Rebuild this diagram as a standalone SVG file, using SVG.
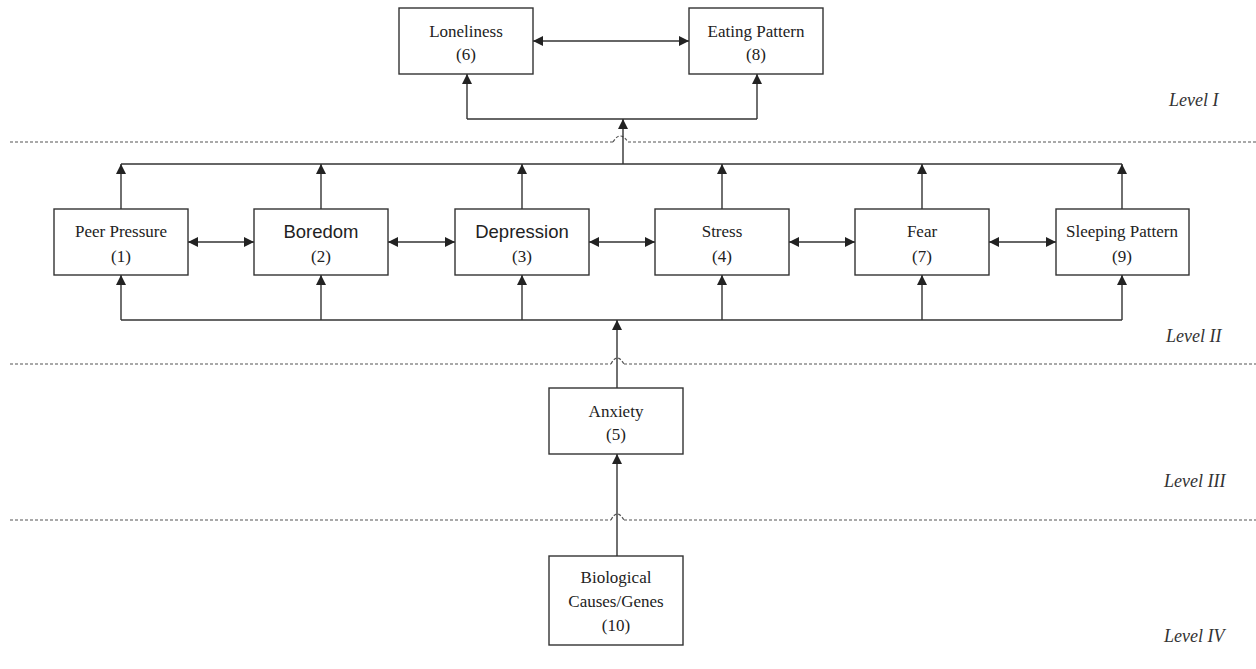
<svg xmlns="http://www.w3.org/2000/svg" width="1256" height="669" viewBox="0 0 1256 669">
<style>
.box{fill:#fff;stroke:#333;stroke-width:1.4}
.ln{fill:none;stroke:#333;stroke-width:1.4}
.dot{fill:none;stroke:#555;stroke-width:1.2;stroke-dasharray:3 2}
.t{font-family:"Liberation Serif","Times New Roman",serif;font-size:17px;fill:#222;text-anchor:middle}
.s{font-family:"Liberation Sans",Arial,sans-serif;font-size:18.5px;fill:#222;text-anchor:middle}
.lv{font-family:"Liberation Serif","Times New Roman",serif;font-style:italic;font-size:18px;fill:#333}
</style>
<defs>
<marker id="ah" viewBox="0 0 10 10" refX="10" refY="5" markerWidth="10" markerHeight="10" markerUnits="userSpaceOnUse" orient="auto-start-reverse">
<path d="M0,0 L10,5 L0,10 z" fill="#222"/>
</marker>
</defs>
<g id="levels">
<path class="dot" d="M10,142 H613 M628,142 H1256"/>
<path class="dot" d="M613,142 Q620,130 628,142"/>
<path class="dot" d="M10,364 H611 M624,364 H1256"/>
<path class="dot" d="M611,364 Q617,352 624,364"/>
<path class="dot" d="M10,520 H611 M624,520 H1256"/>
<path class="dot" d="M611,520 Q617,508 624,520"/>
<text class="lv" x="1169" y="106">Level I</text>
<text class="lv" x="1166" y="342">Level II</text>
<text class="lv" x="1164" y="487">Level III</text>
<text class="lv" x="1164" y="642">Level IV</text>
</g>
<g id="connectors">
<line class="ln" x1="533" y1="41" x2="689" y2="41" marker-start="url(#ah)" marker-end="url(#ah)"/>
<path class="ln" d="M467,119 H757"/>
<line class="ln" x1="467" y1="119" x2="467" y2="74" marker-end="url(#ah)"/>
<line class="ln" x1="757" y1="119" x2="757" y2="74" marker-end="url(#ah)"/>
<line class="ln" x1="623" y1="164" x2="623" y2="119" marker-end="url(#ah)"/>
<path class="ln" d="M121,164 H1122"/>
<line class="ln" x1="121" y1="209" x2="121" y2="164" marker-end="url(#ah)"/>
<line class="ln" x1="321" y1="209" x2="321" y2="164" marker-end="url(#ah)"/>
<line class="ln" x1="522" y1="209" x2="522" y2="164" marker-end="url(#ah)"/>
<line class="ln" x1="722" y1="209" x2="722" y2="164" marker-end="url(#ah)"/>
<line class="ln" x1="922" y1="209" x2="922" y2="164" marker-end="url(#ah)"/>
<line class="ln" x1="1122" y1="209" x2="1122" y2="164" marker-end="url(#ah)"/>
<line class="ln" x1="188" y1="242" x2="254" y2="242" marker-start="url(#ah)" marker-end="url(#ah)"/>
<line class="ln" x1="388" y1="242" x2="455" y2="242" marker-start="url(#ah)" marker-end="url(#ah)"/>
<line class="ln" x1="589" y1="242" x2="655" y2="242" marker-start="url(#ah)" marker-end="url(#ah)"/>
<line class="ln" x1="789" y1="242" x2="855" y2="242" marker-start="url(#ah)" marker-end="url(#ah)"/>
<line class="ln" x1="989" y1="242" x2="1056" y2="242" marker-start="url(#ah)" marker-end="url(#ah)"/>
<path class="ln" d="M121,320 H1122"/>
<line class="ln" x1="121" y1="320" x2="121" y2="275" marker-end="url(#ah)"/>
<line class="ln" x1="321" y1="320" x2="321" y2="275" marker-end="url(#ah)"/>
<line class="ln" x1="522" y1="320" x2="522" y2="275" marker-end="url(#ah)"/>
<line class="ln" x1="722" y1="320" x2="722" y2="275" marker-end="url(#ah)"/>
<line class="ln" x1="922" y1="320" x2="922" y2="275" marker-end="url(#ah)"/>
<line class="ln" x1="1122" y1="320" x2="1122" y2="275" marker-end="url(#ah)"/>
<line class="ln" x1="617" y1="388" x2="617" y2="320" marker-end="url(#ah)"/>
<line class="ln" x1="617" y1="556" x2="617" y2="454" marker-end="url(#ah)"/>
</g>
<g id="n6"><rect class="box" x="399" y="8" width="134" height="66"/><text class="t" x="466" y="37">Loneliness</text><text class="t" x="466" y="60">(6)</text></g>
<g id="n8"><rect class="box" x="689" y="8" width="134" height="66"/><text class="t" x="756" y="37">Eating Pattern</text><text class="t" x="756" y="60">(8)</text></g>
<g id="n1"><rect class="box" x="54" y="209" width="134" height="66"/><text class="t" x="121" y="237">Peer Pressure</text><text class="t" x="121" y="262">(1)</text></g>
<g id="n2"><rect class="box" x="254" y="209" width="134" height="66"/><text class="s" x="321" y="238">Boredom</text><text class="t" x="321" y="262">(2)</text></g>
<g id="n3"><rect class="box" x="455" y="209" width="134" height="66"/><text class="s" x="522" y="238">Depression</text><text class="t" x="522" y="262">(3)</text></g>
<g id="n4"><rect class="box" x="655" y="209" width="134" height="66"/><text class="t" x="722" y="237">Stress</text><text class="t" x="722" y="262">(4)</text></g>
<g id="n7"><rect class="box" x="855" y="209" width="134" height="66"/><text class="t" x="922" y="237">Fear</text><text class="t" x="922" y="262">(7)</text></g>
<g id="n9"><rect class="box" x="1056" y="209" width="133" height="66"/><text class="t" x="1122" y="237">Sleeping Pattern</text><text class="t" x="1122" y="262">(9)</text></g>
<g id="n5"><rect class="box" x="549" y="388" width="134" height="66"/><text class="t" x="616" y="417">Anxiety</text><text class="t" x="616" y="440">(5)</text></g>
<g id="n10"><rect class="box" x="549" y="556" width="134" height="89"/><text class="t" x="616" y="583">Biological</text><text class="t" x="616" y="607">Causes/Genes</text><text class="t" x="616" y="631">(10)</text></g>
</svg>
